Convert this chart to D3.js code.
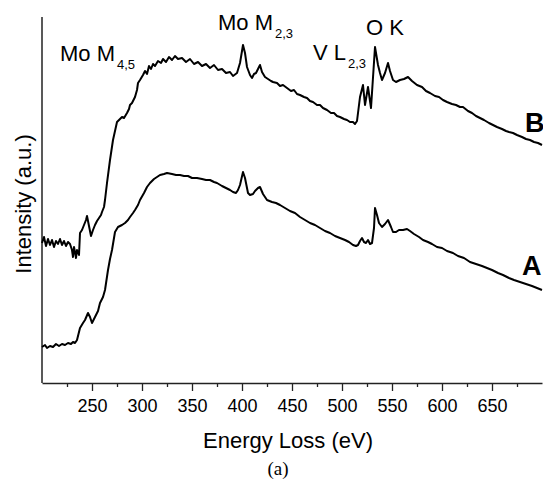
<!DOCTYPE html>
<html>
<head>
<meta charset="utf-8">
<script src="https://cdn.jsdelivr.net/npm/d3@7"></script>
<style>
  body { margin: 0; background: #fff; }
  text { font-family: "Liberation Sans", Arial, sans-serif; fill: #000; }
</style>
</head>
<body>
<script>
// spectrum B (upper) - energy loss in eV, intensity in arbitrary units
var energyB = [200,202,204,206,208,210,212,214,216,218,220,222,224,226,228,230,231,232,233,234,235,237,238,240,242,244,245,247,249,251,253,255,257,259,260,262,263,265,268,271,273,275,277,280,282,285,287,288,290,293,295,296,298,301,303,305,307,309,311,313,316,319,321,324,327,330,333,336,340,344,348,352,356,360,364,368,372,376,380,384,388,391,395,398,401,403,405,408,410,412,414,416,418,420,423,426,429,431,435,438,441,445,449,452,455,458,462,465,468,471,475,478,481,485,489,492,495,498,502,505,508,511,513,515,518,521,523,526,529,533,536,538,540,543,546,548,551,554,558,562,566,570,575,580,584,588,593,597,601,605,610,614,618,621,626,630,634,638,642,647,651,655,660,664,667,671,675,680,684,688,692,696,700];
var intensityB = [140,146,137,144,138,143,136,142,139,144,138,142,137,141,139,133,126,136,131,125,133,128,150,153,158,163,167,157,147,153,158,162,165,168,171,176,183,200,223,243,252,261,263,266,265,270,274,278,280,286,293,300,303,308,312,309,317,314,319,317,322,320,324,321,326,323,327,324,325,321,324,319,321,317,319,315,318,313,314,310,311,307,310,320,338,330,316,308,305,309,310,314,318,311,306,304,302,301,300,297,298,295,292,293,289,288,286,285,282,281,278,278,275,273,270,270,267,266,264,263,261,261,259,262,286,298,278,296,275,336,318,310,303,310,320,312,303,301,303,304,306,302,298,296,292,290,287,286,283,281,279,278,276,276,272,270,267,265,263,260,258,256,254,252,251,250,248,246,244,243,241,240,238];

// spectrum A (lower)
var energyA = [200,203,205,208,211,214,217,220,223,226,229,231,233,235,238,241,243,246,248,250,253,256,258,261,263,266,268,270,273,276,280,283,286,288,291,293,296,298,302,305,308,312,315,318,322,325,330,334,338,342,346,350,355,360,364,368,372,375,380,384,388,391,394,396,398,401,403,406,408,411,413,416,418,421,425,430,434,438,443,448,453,458,463,468,473,478,483,488,493,498,503,507,511,514,516,518,520,522,524,526,528,530,532,533,535,537,540,543,546,549,551,554,557,561,565,568,572,577,581,586,590,595,600,605,611,616,622,628,634,640,645,650,656,661,667,672,678,684,690,695,700];
var intensityA = [36,38,35,37,36,39,37,39,38,40,39,41,40,43,55,60,63,70,66,60,66,72,80,86,93,113,124,133,151,156,158,160,163,166,170,173,178,183,190,196,200,204,206,208,209,210,209,208,208,207,207,205,205,204,203,203,201,200,197,195,193,191,190,193,198,211,205,190,188,189,192,195,196,189,183,181,180,178,175,172,170,166,163,160,158,155,152,150,147,145,143,141,138,137,138,142,145,141,140,143,139,140,155,175,168,160,156,159,163,156,151,151,153,153,154,152,149,146,143,141,139,136,135,132,130,127,125,121,119,117,115,113,110,108,105,103,101,99,97,95,93];

var majorTicks = [250,300,350,400,450,500,550,600,650];
var minorTicks = [225,275,325,375,425,475,525,575,625,675];

var width = 543, height = 481;
var svg = d3.select("body").append("svg")
  .attr("width", width)
  .attr("height", height);

var x = d3.scaleLinear().domain([200, 700]).range([42, 542]);
var y = d3.scaleLinear().domain([0, 366]).range([383, 17]);

// minor ticks first, then the main axis
svg.append("g")
  .attr("transform", "translate(0,383)")
  .call(d3.axisBottom(x).tickValues(minorTicks).tickSize(4).tickFormat(""))
  .call(function(g) { g.select(".domain").remove(); })
  .selectAll("line").attr("stroke", "#222").attr("stroke-width", 1.3);

var xAxis = svg.append("g")
  .attr("transform", "translate(0,383)")
  .call(d3.axisBottom(x).tickValues(majorTicks).tickSize(8).tickSizeOuter(0).tickPadding(8));
xAxis.select(".domain").attr("stroke", "#222").attr("stroke-width", 1.5);
xAxis.selectAll(".tick line").attr("stroke", "#222").attr("stroke-width", 1.3);
xAxis.selectAll("text").attr("font-size", 18).attr("font-family", "Liberation Sans, Arial, sans-serif");

// left axis line only
svg.append("line")
  .attr("x1", 42).attr("x2", 42)
  .attr("y1", y(366)).attr("y2", 383)
  .attr("stroke", "#222").attr("stroke-width", 1.5);

var line = d3.line()
  .x(function(d) { return x(d[0]); })
  .y(function(d) { return y(d[1]); });

var seriesA = d3.zip(energyA, intensityA);
var seriesB = d3.zip(energyB, intensityB);

svg.append("path").datum(seriesB)
  .attr("d", line).attr("fill", "none")
  .attr("stroke", "#000").attr("stroke-width", 2).attr("stroke-linejoin", "round");
svg.append("path").datum(seriesA)
  .attr("d", line).attr("fill", "none")
  .attr("stroke", "#000").attr("stroke-width", 2).attr("stroke-linejoin", "round");

// axis titles
svg.append("text")
  .attr("x", 288).attr("y", 448)
  .attr("text-anchor", "middle").attr("font-size", 22)
  .text("Energy Loss (eV)");

svg.append("text")
  .attr("transform", "translate(31,204) rotate(-90)")
  .attr("text-anchor", "middle").attr("font-size", 22)
  .text("Intensity (a.u.)");

svg.append("text")
  .attr("x", 278).attr("y", 475)
  .attr("text-anchor", "middle").attr("font-size", 19)
  .style("font-family", "Liberation Serif, Times New Roman, serif")
  .text("(a)");

// edge labels
function edgeLabel(px, py, main, sub) {
  var t = svg.append("text").attr("x", px).attr("y", py).attr("font-size", 22);
  t.append("tspan").text(main);
  if (sub) {
    t.append("tspan").attr("dx", 2).attr("dy", 8).attr("font-size", 13).text(sub);
  }
}
edgeLabel(60, 61, "Mo M", "4,5");
edgeLabel(218, 30, "Mo M", "2,3");
edgeLabel(313, 60, "V L", "2,3");
edgeLabel(366, 35, "O K");

svg.append("text").attr("x", 525).attr("y", 132)
  .attr("font-size", 27).attr("font-weight", "bold").text("B");
svg.append("text").attr("x", 522).attr("y", 275)
  .attr("font-size", 27).attr("font-weight", "bold").text("A");
</script>
</body>
</html>
